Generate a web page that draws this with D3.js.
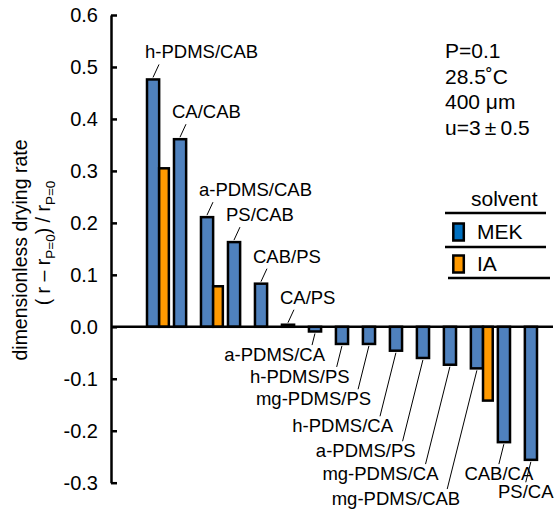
<!DOCTYPE html>
<html>
<head>
<meta charset="utf-8">
<script src="https://cdn.jsdelivr.net/npm/d3@7"></script>
<style>
  body { margin: 0; background: #fff; }
  svg text { font-family: "Liberation Sans", Arial, Helvetica, sans-serif; fill: #000; }
</style>
</head>
<body>
<svg id="chart" width="558" height="512"></svg>
<script>
// film pairs, in the order they stand on the chart
var categories = ["h-PDMS/CAB", "CA/CAB", "a-PDMS/CAB", "PS/CAB", "CAB/PS", "CA/PS",
    "a-PDMS/CA", "h-PDMS/PS", "mg-PDMS/PS", "h-PDMS/CA", "a-PDMS/PS", "mg-PDMS/CA",
    "mg-PDMS/CAB", "CAB/CA", "PS/CA"];

// dimensionless drying rate, solvent MEK
var mek = [0.476, 0.361, 0.211, 0.163, 0.083, 0.004, -0.009, -0.033, -0.033, -0.046,
    -0.060, -0.073, -0.080, -0.222, -0.256];

// solvent IA (only three pairs measured)
var ia = [0.305, null, 0.078, null, null, null, null, null, null, null, null, null,
    -0.142, null, null];

var yTicks = [0.6, 0.5, 0.4, 0.3, 0.2, 0.1, 0.0, -0.1, -0.2, -0.3];

// where the labels under the negative bars sit (value units)
var labelRows = [null, null, null, null, null, null, -0.066, -0.108, -0.151, -0.203,
    -0.251, -0.295, -0.343, -0.295, -0.330];

var conditions = ["P=0.1", "28.5\u02DAC", "400 \u03BCm", "u=3\u2009\u00B1\u20090.5"];
var solvents = ["MEK", "IA"];
var colors = { MEK: "#4F81BD", IA: "#FF9900" };
var legendColors = { MEK: "#0070C0", IA: "#FF9900" };

var width = 558, height = 512;
var axisX = 111, zeroEnd = 553;

var svg = d3.select("#chart");

var y = d3.scaleLinear().domain([-0.3, 0.6]).range([482.7, 15]);
var x = d3.scaleBand().domain(categories).range([147, 537]).paddingInner(0.55).paddingOuter(0);
var bw = x.bandwidth();

var rows = categories.map(function(c, i) {
    return { name: c, mek: mek[i], ia: ia[i], row: labelRows[i] };
});

// bars
var bars = svg.append("g");
bars.selectAll("rect.mek")
    .data(rows)
    .enter().append("rect")
    .attr("class", "mek")
    .attr("x", function(d) { return x(d.name); })
    .attr("y", function(d) { return Math.min(y(d.mek), y(0)); })
    .attr("width", bw)
    .attr("height", function(d) { return Math.abs(y(d.mek) - y(0)); })
    .style("fill", colors.MEK)
    .style("stroke", "#000")
    .style("stroke-width", 2.5);

bars.selectAll("rect.ia")
    .data(rows.filter(function(d) { return d.ia !== null; }))
    .enter().append("rect")
    .attr("class", "ia")
    .attr("x", function(d) { return x(d.name) + bw; })
    .attr("y", function(d) { return Math.min(y(d.ia), y(0)); })
    .attr("width", bw * 0.8)
    .attr("height", function(d) { return Math.abs(y(d.ia) - y(0)); })
    .style("fill", colors.IA)
    .style("stroke", "#000")
    .style("stroke-width", 2.5);

// zero line
svg.append("line")
    .attr("x1", axisX).attr("x2", zeroEnd)
    .attr("y1", y(0)).attr("y2", y(0))
    .style("stroke", "#000").style("stroke-width", 2.5);

// y axis, ticks pointing inward
var yAxis = d3.axisLeft(y)
    .tickValues(yTicks)
    .tickSizeInner(-6)
    .tickSizeOuter(0)
    .tickPadding(13)
    .tickFormat(function(d) { return d.toFixed(1); });

var ga = svg.append("g")
    .attr("transform", "translate(" + axisX + ",0)")
    .call(yAxis);
ga.select(".domain").style("stroke-width", 2.5);
ga.selectAll(".tick line").style("stroke-width", 2.5);
ga.selectAll(".tick text")
    .style("font-size", "20px")
    .style("font-family", "'Liberation Sans', Arial, sans-serif");

// y axis title
var yt = svg.append("g").attr("transform", "rotate(-90)");
yt.append("text")
    .attr("x", -250).attr("y", 27)
    .attr("text-anchor", "middle")
    .style("font-size", "19.5px")
    .text("dimensionless drying rate");
var t2 = yt.append("text")
    .attr("x", -243).attr("y", 50)
    .attr("text-anchor", "middle")
    .style("font-size", "19.5px");
t2.append("tspan").text("( r \u2013 r");
t2.append("tspan").attr("dy", 5).style("font-size", "13.5px").text("P=0");
t2.append("tspan").attr("dy", -5).text(") / r");
t2.append("tspan").attr("dy", 5).style("font-size", "13.5px").text("P=0");

// labels above positive bars
var labels = svg.append("g");
rows.forEach(function(d) {
    var bx = x(d.name) + 6;
    if (d.row === null) {
        var top = y(d.mek) - 2;
        labels.append("line")
            .attr("x1", bx).attr("y1", top)
            .attr("x2", bx + 6).attr("y2", top - 13)
            .style("stroke", "#000").style("stroke-width", 1);
        labels.append("text")
            .attr("x", bx - 8).attr("y", top - 19)
            .style("font-size", "18.5px")
            .text(d.name);
    } else {
        var bottom = y(d.mek) + 2;
        var ry = y(d.row);
        var ey = ry - 16;
        var ex = bx - 0.25 * (ey - bottom);
        labels.append("line")
            .attr("x1", bx).attr("y1", bottom)
            .attr("x2", ex).attr("y2", ey)
            .style("stroke", "#000").style("stroke-width", 1);
        var last = d.mek < -0.15;
        labels.append("text")
            .attr("x", last ? ex : ex + 13).attr("y", ry)
            .attr("text-anchor", last ? "middle" : "end")
            .style("font-size", "18.5px")
            .text(d.name);
    }
});

// run conditions
svg.append("g").selectAll("text")
    .data(conditions)
    .enter().append("text")
    .attr("x", 445)
    .attr("y", function(d, i) { return 58 + i * 25.6; })
    .style("font-size", "21px")
    .text(function(d) { return d; });

// legend
var lg = svg.append("g");
lg.append("text").attr("x", 471).attr("y", 206).style("font-size", "21px").text("solvent");
[213, 247].forEach(function(ly) {
    lg.append("line").attr("x1", 445).attr("x2", 546).attr("y1", ly).attr("y2", ly)
        .style("stroke", "#000").style("stroke-width", 2.5);
});
lg.append("line").attr("x1", 448).attr("x2", 550).attr("y1", 278).attr("y2", 278)
    .style("stroke", "#000").style("stroke-width", 2.5);
solvents.forEach(function(s, i) {
    var sy = 223.5 + i * 32;
    lg.append("rect")
        .attr("x", 453.3).attr("y", sy)
        .attr("width", 10.5).attr("height", 17)
        .style("fill", legendColors[s])
        .style("stroke", "#000").style("stroke-width", 2.5);
    lg.append("text")
        .attr("x", 477).attr("y", sy + 15)
        .style("font-size", "21px")
        .text(s);
});
</script>
</body>
</html>
